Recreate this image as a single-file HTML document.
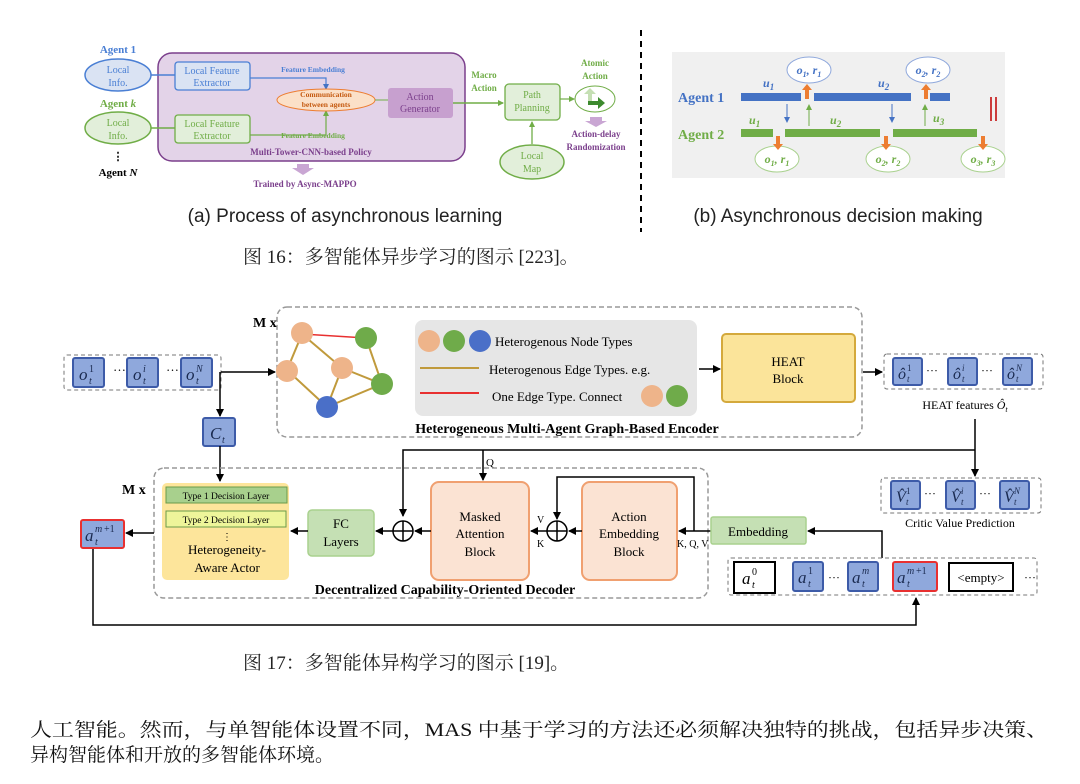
<!DOCTYPE html>
<html><head><meta charset="utf-8"><style>
html,body{margin:0;padding:0;background:#fff;}
svg{display:block;}
.s{font-family:"Liberation Serif","Noto Serif CJK SC",serif;}
.a{font-family:"Liberation Sans","Noto Sans CJK SC",sans-serif;}
.m{font-family:"Liberation Serif",serif;font-style:italic;fill:#1a2a50;}
</style></head><body>
<svg width="1080" height="784" viewBox="0 0 1080 784" xmlns="http://www.w3.org/2000/svg">
<defs>
<marker id="ak" markerWidth="8" markerHeight="8" refX="7" refY="4" orient="auto" markerUnits="userSpaceOnUse"><path d="M0,0 L8,4 L0,8 Z" fill="#000"/></marker>
<marker id="ab" markerWidth="6" markerHeight="6" refX="5" refY="3" orient="auto" markerUnits="userSpaceOnUse"><path d="M0,0 L6,3 L0,6 Z" fill="#4472c4"/></marker>
<marker id="ag" markerWidth="6" markerHeight="6" refX="5" refY="3" orient="auto" markerUnits="userSpaceOnUse"><path d="M0,0 L6,3 L0,6 Z" fill="#70ad47"/></marker>
</defs>

<!-- ===== Fig 16 (a) ===== -->
<g class="s" font-weight="bold" text-anchor="middle">
<text x="118" y="53" font-size="11" fill="#4a7fd4">Agent 1</text>
<ellipse cx="118" cy="75" rx="33" ry="16" fill="#dae3f3" stroke="#4a7fd4" stroke-width="1.5"/>
<text x="118" y="73" font-size="10" fill="#4a7fd4" font-weight="normal">Local</text>
<text x="118" y="86" font-size="10" fill="#4a7fd4" font-weight="normal">Info.</text>
<text x="118" y="107" font-size="11" fill="#70ad47">Agent <tspan font-style="italic">k</tspan></text>
<ellipse cx="118" cy="128" rx="33" ry="16" fill="#e2efda" stroke="#70ad47" stroke-width="1.5"/>
<text x="118" y="126" font-size="10" fill="#70ad47" font-weight="normal">Local</text>
<text x="118" y="139" font-size="10" fill="#70ad47" font-weight="normal">Info.</text>
<text x="118" y="160" font-size="11" fill="#000">⋮</text>
<text x="118" y="176" font-size="11" fill="#000">Agent <tspan font-style="italic">N</tspan></text>

<rect x="158" y="53" width="307" height="108" rx="14" fill="#e3d3e8" stroke="#7b3f8c" stroke-width="1.5"/>
<line x1="151" y1="75" x2="175" y2="75" stroke="#4a7fd4" stroke-width="1.5"/>
<line x1="151" y1="128" x2="175" y2="128" stroke="#70ad47" stroke-width="1.5"/>
<rect x="175" y="62" width="75" height="28" rx="3" fill="#dae3f3" stroke="#4a7fd4" stroke-width="1.3"/>
<text x="212" y="74" font-size="10" fill="#4a7fd4" font-weight="normal">Local Feature</text>
<text x="212" y="86" font-size="10" fill="#4a7fd4" font-weight="normal">Extractor</text>
<rect x="175" y="115" width="75" height="28" rx="3" fill="#e2efda" stroke="#70ad47" stroke-width="1.3"/>
<text x="212" y="127" font-size="10" fill="#70ad47" font-weight="normal">Local Feature</text>
<text x="212" y="139" font-size="10" fill="#70ad47" font-weight="normal">Extractor</text>
<polyline points="250,78 326,78 326,89" fill="none" stroke="#4a7fd4" stroke-width="1.2" marker-end="url(#ab)"/>
<polyline points="250,135 326,135 326,111" fill="none" stroke="#70ad47" stroke-width="1.2" marker-end="url(#ag)"/>
<text x="313" y="72" font-size="7.5" fill="#4a7fd4">Feature Embedding</text>
<text x="313" y="138" font-size="7.5" fill="#70ad47">Feature Embedding</text>
<ellipse cx="326" cy="100" rx="49" ry="11" fill="#fbe0c8" stroke="#ed7d31" stroke-width="1"/>
<text x="326" y="97" font-size="7.5" fill="#c55a11">Communication</text>
<text x="326" y="107" font-size="7.5" fill="#c55a11">between agents</text>
<line x1="375" y1="100" x2="388" y2="100" stroke="#70ad47" stroke-width="1"/>
<rect x="388" y="88" width="65" height="30" rx="3" fill="#c7a0cf"/>
<text x="420" y="100" font-size="10" fill="#7b3f8c" font-weight="normal">Action</text>
<text x="420" y="112" font-size="10" fill="#7b3f8c" font-weight="normal">Generator</text>
<text x="311" y="155" font-size="9" fill="#7b3f8c">Multi-Tower-CNN-based Policy</text>
<path d="M297,164 h12 v4 h5 l-11,7 l-11,-7 h5 z" fill="#c9a6d3"/>
<text x="305" y="187" font-size="9" fill="#7b3f8c">Trained by Async-MAPPO</text>

<text x="484" y="78" font-size="9" fill="#70ad47">Macro</text>
<text x="484" y="91" font-size="9" fill="#70ad47">Action</text>
<line x1="453" y1="103" x2="503" y2="103" stroke="#70ad47" stroke-width="1.5" marker-end="url(#ag)"/>
<rect x="505" y="84" width="55" height="36" rx="4" fill="#e2efda" stroke="#70ad47" stroke-width="1.3"/>
<text x="532" y="98" font-size="10" fill="#70ad47" font-weight="normal">Path</text>
<text x="532" y="111" font-size="10" fill="#70ad47" font-weight="normal">Planning</text>
<line x1="532" y1="144" x2="532" y2="122" stroke="#70ad47" stroke-width="1.3" marker-end="url(#ag)"/>
<ellipse cx="532" cy="162" rx="32" ry="17" fill="#e2efda" stroke="#70ad47" stroke-width="1.5"/>
<text x="532" y="159" font-size="10" fill="#70ad47" font-weight="normal">Local</text>
<text x="532" y="172" font-size="10" fill="#70ad47" font-weight="normal">Map</text>
<line x1="560" y1="99" x2="574" y2="99" stroke="#70ad47" stroke-width="1.2" marker-end="url(#ag)"/>
<text x="595" y="66" font-size="9" fill="#70ad47">Atomic</text>
<text x="595" y="79" font-size="9" fill="#70ad47">Action</text>
<ellipse cx="595" cy="99" rx="20" ry="13" fill="#fff" stroke="#70ad47" stroke-width="1"/>
<path d="M588,105 v-11 h-4 l6,-6 l6,6 h-4 v11 z" fill="#c5dfb4"/>
<path d="M588,101 h10 v-4 l7,6 l-7,6 v-4 h-10 z" fill="#3c8a2e"/>
<path d="M590,117 h12 v4 h5 l-11,6 l-11,-6 h5 z" fill="#c9a6d3"/>
<text x="596" y="137" font-size="9" fill="#7b3f8c">Action-delay</text>
<text x="596" y="150" font-size="9" fill="#7b3f8c">Randomization</text>
</g>

<line x1="641" y1="30" x2="641" y2="232" stroke="#000" stroke-width="2" stroke-dasharray="6,5"/>

<!-- ===== Fig 16 (b) ===== -->
<rect x="672" y="52" width="333" height="126" fill="#f0f0f0"/>
<g class="s" font-style="italic" font-size="12">
<text x="678" y="102" font-size="14" font-weight="bold" font-style="normal" fill="#4472c4">Agent 1</text>
<text x="678" y="139" font-size="14" font-weight="bold" font-style="normal" fill="#70ad47">Agent 2</text>
<rect x="741" y="93" width="60" height="8" fill="#4472c4"/>
<rect x="814" y="93" width="97" height="8" fill="#4472c4"/>
<rect x="930" y="93" width="20" height="8" fill="#4472c4"/>
<rect x="741" y="129" width="32" height="8" fill="#70ad47"/>
<rect x="785" y="129" width="95" height="8" fill="#70ad47"/>
<rect x="893" y="129" width="84" height="8" fill="#70ad47"/>
<text x="763" y="87" fill="#4472c4" font-weight="bold">u<tspan font-size="9" dy="3">1</tspan></text>
<text x="878" y="87" fill="#4472c4" font-weight="bold">u<tspan font-size="9" dy="3">2</tspan></text>
<text x="749" y="124" fill="#70ad47" font-weight="bold">u<tspan font-size="9" dy="3">1</tspan></text>
<text x="830" y="124" fill="#70ad47" font-weight="bold">u<tspan font-size="9" dy="3">2</tspan></text>
<text x="933" y="122" fill="#70ad47" font-weight="bold">u<tspan font-size="9" dy="3">3</tspan></text>
<ellipse cx="809" cy="70" rx="22" ry="13" fill="#fff" stroke="#8fa8dc"/>
<text x="809" y="74" text-anchor="middle" fill="#4472c4" font-weight="bold">o<tspan font-size="8" dy="3">1</tspan><tspan dy="-3">, r</tspan><tspan font-size="8" dy="3">1</tspan></text>
<ellipse cx="928" cy="70" rx="22" ry="13" fill="#fff" stroke="#8fa8dc"/>
<text x="928" y="74" text-anchor="middle" fill="#4472c4" font-weight="bold">o<tspan font-size="8" dy="3">2</tspan><tspan dy="-3">, r</tspan><tspan font-size="8" dy="3">2</tspan></text>
<ellipse cx="777" cy="159" rx="22" ry="13" fill="#fff" stroke="#a9d18e"/>
<text x="777" y="163" text-anchor="middle" fill="#70ad47" font-weight="bold">o<tspan font-size="8" dy="3">1</tspan><tspan dy="-3">, r</tspan><tspan font-size="8" dy="3">1</tspan></text>
<ellipse cx="888" cy="159" rx="22" ry="13" fill="#fff" stroke="#a9d18e"/>
<text x="888" y="163" text-anchor="middle" fill="#70ad47" font-weight="bold">o<tspan font-size="8" dy="3">2</tspan><tspan dy="-3">, r</tspan><tspan font-size="8" dy="3">2</tspan></text>
<ellipse cx="983" cy="159" rx="22" ry="13" fill="#fff" stroke="#a9d18e"/>
<text x="983" y="163" text-anchor="middle" fill="#70ad47" font-weight="bold">o<tspan font-size="8" dy="3">3</tspan><tspan dy="-3">, r</tspan><tspan font-size="8" dy="3">3</tspan></text>
</g>
<g fill="#ed7d31">
<path d="M805,99 v-9 h-3 l5,-6 l5,6 h-3 v9 z"/>
<path d="M924,99 v-9 h-3 l5,-6 l5,6 h-3 v9 z"/>
<path d="M776,136 v8 h-3 l5,6 l5,-6 h-3 v-8 z"/>
<path d="M884,136 v8 h-3 l5,6 l5,-6 h-3 v-8 z"/>
<path d="M981,136 v8 h-3 l5,6 l5,-6 h-3 v-8 z"/>
</g>
<line x1="787" y1="104" x2="787" y2="122" stroke="#4472c4" marker-end="url(#ab)"/>
<line x1="892" y1="104" x2="892" y2="122" stroke="#4472c4" marker-end="url(#ab)"/>
<line x1="809" y1="126" x2="809" y2="105" stroke="#70ad47" marker-end="url(#ag)"/>
<line x1="925" y1="126" x2="925" y2="105" stroke="#70ad47" marker-end="url(#ag)"/>
<line x1="991" y1="97" x2="991" y2="121" stroke="#c00000" stroke-width="1.5"/>
<line x1="996" y1="97" x2="996" y2="121" stroke="#c00000" stroke-width="1.5"/>

<text class="a" x="345" y="222" font-size="19" text-anchor="middle" fill="#222">(a) Process of asynchronous learning</text>
<text class="a" x="838" y="222" font-size="19" text-anchor="middle" fill="#222">(b) Asynchronous decision making</text>
<text class="s" x="243" y="263" font-size="19" fill="#222">图 16：多智能体异步学习的图示 [223]。</text>

<!-- ===== Fig 17 ===== -->
<g class="s">
<rect x="64" y="355" width="157" height="35" rx="3" fill="none" stroke="#777" stroke-dasharray="4,3"/>
<g fill="#8fa8dc" stroke="#3d5ba8" stroke-width="2">
<rect x="73" y="358" width="31" height="29" rx="2"/><rect x="127" y="358" width="31" height="29" rx="2"/><rect x="181" y="358" width="31" height="29" rx="2"/>
<rect x="203" y="418" width="32" height="28" rx="2"/>
</g>
<g class="m">
<text x="79" y="380" font-size="17">o</text><text x="89" y="372" font-size="10" font-style="normal">1</text><text x="89" y="384" font-size="10">t</text>
<text x="133" y="380" font-size="17">o</text><text x="143" y="372" font-size="10">i</text><text x="143" y="384" font-size="10">t</text>
<text x="186" y="380" font-size="17">o</text><text x="196" y="372" font-size="10">N</text><text x="196" y="384" font-size="10">t</text>
<text x="210" y="439" font-size="17">C</text><text x="222" y="443" font-size="10">t</text>
</g>
<text x="113" y="375" font-size="13">⋯</text><text x="166" y="375" font-size="13">⋯</text>
<g stroke="#000" stroke-width="1.5" fill="none">
<line x1="221" y1="372" x2="275" y2="372" marker-end="url(#ak)"/>
<line x1="220" y1="372" x2="220" y2="416" marker-end="url(#ak)"/>
<line x1="220" y1="446" x2="220" y2="481" marker-end="url(#ak)"/>
</g>

<!-- Encoder -->
<rect x="277" y="307" width="585" height="130" rx="10" fill="none" stroke="#999" stroke-width="1.5" stroke-dasharray="5,3"/>
<text x="253" y="327" font-size="14" font-weight="bold">M x</text>
<g stroke="#c09a3c" stroke-width="2">
<line x1="302" y1="334" x2="287" y2="370"/><line x1="302" y1="334" x2="342" y2="368"/>
<line x1="287" y1="370" x2="327" y2="407"/><line x1="342" y1="368" x2="327" y2="407"/>
<line x1="342" y1="368" x2="382" y2="384"/><line x1="366" y1="338" x2="382" y2="384"/>
<line x1="327" y1="407" x2="382" y2="384"/>
</g>
<line x1="302" y1="334" x2="366" y2="338" stroke="#e83030" stroke-width="1.5"/>
<g><circle cx="302" cy="333" r="11" fill="#eeb48a"/><circle cx="287" cy="371" r="11" fill="#eeb48a"/><circle cx="342" cy="368" r="11" fill="#eeb48a"/>
<circle cx="366" cy="338" r="11" fill="#6fab4a"/><circle cx="382" cy="384" r="11" fill="#6fab4a"/><circle cx="327" cy="407" r="11" fill="#4a6fc8"/></g>
<rect x="415" y="320" width="282" height="96" rx="8" fill="#e6e6e6"/>
<circle cx="429" cy="341" r="11" fill="#eeb48a"/><circle cx="454" cy="341" r="11" fill="#6fab4a"/><circle cx="480" cy="341" r="11" fill="#4a6fc8"/>
<text x="495" y="346" font-size="13">Heterogenous Node Types</text>
<line x1="420" y1="368" x2="479" y2="368" stroke="#c09a3c" stroke-width="2"/>
<text x="489" y="374" font-size="13">Heterogenous Edge Types. e.g.</text>
<line x1="420" y1="393" x2="479" y2="393" stroke="#e83030" stroke-width="2"/>
<text x="492" y="401" font-size="13">One Edge Type. Connect</text>
<circle cx="652" cy="396" r="11" fill="#eeb48a"/><circle cx="677" cy="396" r="11" fill="#6fab4a"/>
<line x1="699" y1="369" x2="720" y2="369" stroke="#000" stroke-width="1.5" marker-end="url(#ak)"/>
<rect x="722" y="334" width="133" height="68" rx="4" fill="#fbe49a" stroke="#d4a93c" stroke-width="2"/>
<text x="788" y="366" font-size="13" text-anchor="middle">HEAT</text>
<text x="788" y="383" font-size="13" text-anchor="middle">Block</text>
<text x="567" y="433" font-size="14" font-weight="bold" text-anchor="middle">Heterogeneous Multi-Agent Graph-Based Encoder</text>

<!-- HEAT features -->
<line x1="863" y1="372" x2="882" y2="372" stroke="#000" stroke-width="1.5" marker-end="url(#ak)"/>
<rect x="884" y="354" width="159" height="35" rx="3" fill="none" stroke="#777" stroke-dasharray="4,3"/>
<g fill="#8fa8dc" stroke="#3d5ba8" stroke-width="2">
<rect x="893" y="358" width="29" height="27" rx="2"/><rect x="948" y="358" width="29" height="27" rx="2"/><rect x="1003" y="358" width="29" height="27" rx="2"/>
<rect x="891" y="481" width="29" height="28" rx="2"/><rect x="946" y="481" width="29" height="28" rx="2"/><rect x="1000" y="481" width="29" height="28" rx="2"/>
</g>
<rect x="881" y="478" width="160" height="35" rx="3" fill="none" stroke="#777" stroke-dasharray="4,3"/>
<g class="m">
<text x="898" y="379" font-size="16">ô</text><text x="907" y="371" font-size="9" font-style="normal">1</text><text x="907" y="382" font-size="9">t</text>
<text x="953" y="379" font-size="16">ô</text><text x="962" y="371" font-size="9">i</text><text x="962" y="382" font-size="9">t</text>
<text x="1007" y="379" font-size="16">ô</text><text x="1016" y="371" font-size="9">N</text><text x="1016" y="382" font-size="9">t</text>
<text x="896" y="502" font-size="16">V̂</text><text x="906" y="494" font-size="9" font-style="normal">1</text><text x="906" y="505" font-size="9">t</text>
<text x="951" y="502" font-size="16">V̂</text><text x="961" y="494" font-size="9">i</text><text x="961" y="505" font-size="9">t</text>
<text x="1004" y="502" font-size="16">V̂</text><text x="1014" y="494" font-size="9">N</text><text x="1014" y="505" font-size="9">t</text>
</g>
<text x="926" y="375" font-size="12">⋯</text><text x="981" y="375" font-size="12">⋯</text>
<text x="924" y="498" font-size="12">⋯</text><text x="979" y="498" font-size="12">⋯</text>
<text x="965" y="409" font-size="12" text-anchor="middle">HEAT features <tspan font-style="italic">Ô</tspan><tspan font-size="8" font-style="italic" dy="3">t</tspan></text>
<text x="960" y="527" font-size="12" text-anchor="middle">Critic Value Prediction</text>

<g stroke="#000" stroke-width="1.5" fill="none">
<polyline points="975,419 975,476" marker-end="url(#ak)"/>
<polyline points="975,450 403,450 403,516" marker-end="url(#ak)"/>
<polyline points="483,450 483,480" marker-end="url(#ak)"/>
</g>
<text x="486" y="466" font-size="11">Q</text>

<!-- Decoder -->
<rect x="154" y="468" width="554" height="130" rx="10" fill="none" stroke="#999" stroke-width="1.5" stroke-dasharray="5,3"/>
<text x="122" y="494" font-size="14" font-weight="bold">M x</text>
<rect x="162" y="483" width="127" height="97" rx="5" fill="#fde59b"/>
<rect x="166" y="487" width="121" height="16" fill="#a8d08d" stroke="#6a9a4a"/>
<text x="226" y="499" font-size="9.5" text-anchor="middle">Type 1 Decision Layer</text>
<rect x="166" y="511" width="120" height="16" fill="#eef59a" stroke="#6a9a4a"/>
<text x="226" y="523" font-size="9.5" text-anchor="middle">Type 2 Decision Layer</text>
<text x="227" y="540" font-size="10" text-anchor="middle">⋮</text>
<text x="227" y="554" font-size="13" text-anchor="middle">Heterogeneity-</text>
<text x="227" y="572" font-size="13" text-anchor="middle">Aware Actor</text>
<rect x="308" y="510" width="66" height="46" rx="4" fill="#c5e0b4" stroke="#a9d18e" stroke-width="1.5"/>
<text x="341" y="528" font-size="13" text-anchor="middle">FC</text>
<text x="341" y="546" font-size="13" text-anchor="middle">Layers</text>
<rect x="431" y="482" width="98" height="98" rx="8" fill="#fbe3d3" stroke="#f0a070" stroke-width="2"/>
<text x="480" y="521" font-size="13" text-anchor="middle">Masked</text>
<text x="480" y="538" font-size="13" text-anchor="middle">Attention</text>
<text x="480" y="556" font-size="13" text-anchor="middle">Block</text>
<rect x="582" y="482" width="95" height="98" rx="8" fill="#fbe3d3" stroke="#f0a070" stroke-width="2"/>
<text x="629" y="521" font-size="13" text-anchor="middle">Action</text>
<text x="629" y="538" font-size="13" text-anchor="middle">Embedding</text>
<text x="629" y="556" font-size="13" text-anchor="middle">Block</text>
<g stroke="#000" stroke-width="1.5" fill="none">
<circle cx="403" cy="531" r="10"/><line x1="393" y1="531" x2="413" y2="531"/><line x1="403" y1="521" x2="403" y2="541"/>
<circle cx="557" cy="531" r="10"/><line x1="547" y1="531" x2="567" y2="531"/><line x1="557" y1="521" x2="557" y2="541"/>
<line x1="431" y1="531" x2="415" y2="531" marker-end="url(#ak)"/>
<line x1="393" y1="531" x2="376" y2="531" marker-end="url(#ak)"/>
<line x1="308" y1="531" x2="291" y2="531" marker-end="url(#ak)"/>
<line x1="582" y1="531" x2="569" y2="531" marker-end="url(#ak)"/>
<line x1="547" y1="531" x2="531" y2="531" marker-end="url(#ak)"/>
<polyline points="694,531 694,477 557,477 557,519" marker-end="url(#ak)"/>
<line x1="711" y1="531" x2="679" y2="531" marker-end="url(#ak)"/>
<polyline points="882,558 882,531 808,531" marker-end="url(#ak)"/>
<line x1="154" y1="533" x2="126" y2="533" marker-end="url(#ak)"/>
<polyline points="93,548 93,625 916,625 916,598" marker-end="url(#ak)"/>
</g>
<text x="537" y="523" font-size="10">V</text><text x="537" y="547" font-size="10">K</text>
<text x="677" y="547" font-size="10">K, Q, V</text>
<rect x="711" y="517" width="95" height="27" rx="2" fill="#c5e0b4" stroke="#a9d18e" stroke-width="1.5"/>
<text x="758" y="536" font-size="13" text-anchor="middle">Embedding</text>

<!-- action sequence -->
<rect x="728" y="558" width="309" height="37" rx="3" fill="none" stroke="#777" stroke-dasharray="4,3"/>
<rect x="734" y="562" width="41" height="31" fill="#fff" stroke="#000" stroke-width="2"/>
<g fill="#8fa8dc" stroke="#3d5ba8" stroke-width="2">
<rect x="793" y="562" width="30" height="29" rx="2"/><rect x="848" y="562" width="30" height="29" rx="2"/>
</g>
<rect x="893" y="562" width="44" height="29" rx="2" fill="#8fa8dc" stroke="#e83030" stroke-width="2"/>
<rect x="81" y="520" width="43" height="28" rx="2" fill="#8fa8dc" stroke="#e83030" stroke-width="2"/>
<rect x="949" y="563" width="64" height="28" fill="#fff" stroke="#000" stroke-width="2"/>
<text x="981" y="582" font-size="13" text-anchor="middle">&lt;empty&gt;</text>
<text x="1024" y="582" font-size="12">⋯</text><text x="828" y="582" font-size="12">⋯</text>
<g class="m">
<text x="742" y="584" font-size="17" fill="#000">a</text><text x="752" y="575" font-size="10" font-style="normal" fill="#000">0</text><text x="752" y="588" font-size="10" fill="#000">t</text>
<text x="798" y="583" font-size="17">a</text><text x="808" y="574" font-size="10" font-style="normal">1</text><text x="808" y="587" font-size="10">t</text>
<text x="852" y="583" font-size="17">a</text><text x="862" y="574" font-size="10">m</text><text x="862" y="587" font-size="10">t</text>
<text x="897" y="583" font-size="17">a</text><text x="907" y="574" font-size="10">m</text><text x="916" y="574" font-size="10" font-style="normal">+1</text><text x="907" y="587" font-size="10">t</text>
<text x="85" y="541" font-size="17">a</text><text x="95" y="532" font-size="10">m</text><text x="104" y="532" font-size="10" font-style="normal">+1</text><text x="95" y="545" font-size="10">t</text>
</g>
<text x="445" y="594" font-size="14" font-weight="bold" text-anchor="middle">Decentralized Capability-Oriented Decoder</text>
</g>

<text class="s" x="243" y="669" font-size="19" fill="#222">图 17：多智能体异构学习的图示 [19]。</text>
<text class="s" x="30" y="736" font-size="19" fill="#111" textLength="1018" lengthAdjust="spacingAndGlyphs">人工智能。然而，与单智能体设置不同，MAS 中基于学习的方法还必须解决独特的挑战，包括异步决策、</text>
<text class="s" x="30" y="761" font-size="19" fill="#111">异构智能体和开放的多智能体环境。</text>
</svg>
</body></html>
